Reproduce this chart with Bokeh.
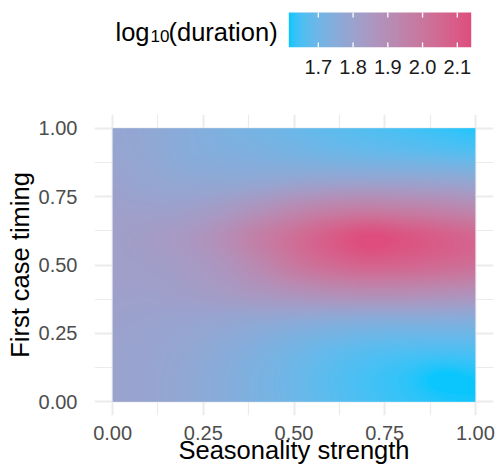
import numpy as np
from bokeh.plotting import figure
from bokeh.models import Range1d, LinearColorMapper, FixedTicker, NumeralTickFormatter, Label
from bokeh.embed import file_html
from bokeh.resources import INLINE

# ---------------- data ----------------
seasonality_strength = [0.0, 0.1, 0.2, 0.3, 0.4, 0.5, 0.6, 0.7, 0.8, 0.9, 1.0]
first_case_timing = [0.0, 0.1, 0.2, 0.3, 0.4, 0.5, 0.6, 0.7, 0.8, 0.9, 1.0]

# log10(duration) along seasonality strength, one list per first-case-timing value
dur_t00 = [1.800, 1.790, 1.772, 1.750, 1.722, 1.695, 1.668, 1.648, 1.633, 1.622, 1.617]
dur_t01 = [1.800, 1.790, 1.773, 1.750, 1.722, 1.694, 1.667, 1.646, 1.631, 1.615, 1.620]
dur_t02 = [1.800, 1.793, 1.780, 1.760, 1.736, 1.710, 1.688, 1.673, 1.665, 1.662, 1.663]
dur_t03 = [1.805, 1.800, 1.795, 1.787, 1.778, 1.768, 1.757, 1.750, 1.748, 1.747, 1.744]
dur_t04 = [1.810, 1.810, 1.820, 1.835, 1.857, 1.880, 1.900, 1.910, 1.908, 1.898, 1.888]
dur_t05 = [1.815, 1.820, 1.835, 1.864, 1.920, 1.990, 2.040, 2.070, 2.062, 2.045, 2.025]
dur_t06 = [1.815, 1.828, 1.848, 1.890, 1.958, 2.025, 2.090, 2.140, 2.118, 2.085, 2.055]
dur_t07 = [1.810, 1.808, 1.812, 1.835, 1.875, 1.920, 1.955, 1.970, 1.960, 1.945, 1.920]
dur_t08 = [1.800, 1.785, 1.775, 1.773, 1.778, 1.790, 1.797, 1.798, 1.796, 1.790, 1.780]
dur_t09 = [1.790, 1.775, 1.752, 1.740, 1.730, 1.718, 1.705, 1.695, 1.686, 1.676, 1.665]
dur_t10 = [1.785, 1.772, 1.750, 1.727, 1.708, 1.690, 1.671, 1.656, 1.643, 1.630, 1.617]

x_ticks = [0.0, 0.25, 0.5, 0.75, 1.0]
x_minor = [0.125, 0.375, 0.625, 0.875]
y_ticks = [0.0, 0.25, 0.5, 0.75, 1.0]
y_minor = [0.125, 0.375, 0.625, 0.875]
legend_ticks = [1.7, 1.8, 1.9, 2.0, 2.1]

low_color = "#0AC6FC"
high_color = "#DE4D7D"

FONT = "Liberation Sans"

grid = np.array([dur_t00, dur_t01, dur_t02, dur_t03, dur_t04, dur_t05,
                 dur_t06, dur_t07, dur_t08, dur_t09, dur_t10])
lo, hi = float(grid.min()), float(grid.max())

# ---------------- CIELAB gradient palette (as ggplot's scale_fill_gradient) ----------------
M = np.array([[0.4124564, 0.3575761, 0.1804375],
              [0.2126729, 0.7151522, 0.0721750],
              [0.0193339, 0.1191920, 0.9503041]])
WP = np.array([0.95047, 1.0, 1.08883])


def hex_to_lab(h):
    rgb = np.array([int(h[i:i + 2], 16) for i in (1, 3, 5)]) / 255.0
    c = np.where(rgb <= 0.04045, rgb / 12.92, ((rgb + 0.055) / 1.055) ** 2.4)
    t = (M @ c) / WP
    f = np.where(t > (6 / 29) ** 3, np.cbrt(t), t / (3 * (6 / 29) ** 2) + 4 / 29)
    return np.array([116 * f[1] - 16, 500 * (f[0] - f[1]), 200 * (f[1] - f[2])])


def lab_to_hex(lab):
    L, a, b = lab
    fy = (L + 16) / 116
    f = np.array([fy + a / 500, fy, fy - b / 200])
    t = np.where(f > 6 / 29, f ** 3, 3 * (6 / 29) ** 2 * (f - 4 / 29))
    c = np.linalg.inv(M) @ (t * WP)
    c = np.clip(c, 0, 1)
    rgb = np.where(c <= 0.0031308, 12.92 * c, 1.055 * c ** (1 / 2.4) - 0.055)
    r, g, bb = (np.clip(np.round(rgb * 255), 0, 255)).astype(int)
    return "#%02x%02x%02x" % (r, g, bb)


lab_lo, lab_hi = hex_to_lab(low_color), hex_to_lab(high_color)
palette = [lab_to_hex((1 - s) * lab_lo + s * lab_hi) for s in np.linspace(0, 1, 256)]
mapper = LinearColorMapper(palette=palette, low=lo, high=hi)


# ---------------- smooth display of the grid (like geom_raster(interpolate=TRUE)) ----------------
def smooth_axis(vals, n_out, axis):
    v = np.moveaxis(vals, axis, -1)
    n = v.shape[-1]
    t = (np.arange(n_out) + 0.5) / n_out * (n - 1)
    i = np.clip(np.floor(t).astype(int), 0, n - 2)
    f = t - i
    p1 = v[..., i]
    p2 = v[..., i + 1]
    p0 = np.where(i - 1 >= 0, v[..., np.maximum(i - 1, 0)], 2 * p1 - p2)
    p3 = np.where(i + 2 <= n - 1, v[..., np.minimum(i + 2, n - 1)], 2 * p2 - p1)
    out = 0.5 * (2 * p1 + (-p0 + p2) * f + (2 * p0 - 5 * p1 + 4 * p2 - p3) * f ** 2
                 + (-p0 + 3 * p1 - 3 * p2 + p3) * f ** 3)
    return np.moveaxis(out, -1, axis)


img = smooth_axis(smooth_axis(grid, 363, 1), 274, 0)

W = 497
H_TOP = 80
H_MAIN = 390

# ---------------- colour bar figure (top) ----------------
bar_left_px, bar_right_px = 288.3, 470.7
ppu = (bar_right_px - bar_left_px) / (hi - lo)
cb_x0 = lo - bar_left_px / ppu
cb_x1 = cb_x0 + W / ppu


def cbx(px):
    return cb_x0 + px / ppu


def cby(py):
    return (47 - py) / 35.0


top = figure(width=W, height=H_TOP, x_range=Range1d(cb_x0, cb_x1), y_range=Range1d(0, 47 / 35.0),
             output_backend="svg", toolbar_location=None, y_axis_location=None,
             min_border_left=0, min_border_right=0, min_border_top=0, min_border_bottom=H_TOP - 47)
top.outline_line_color = None
top.xgrid.visible = False
top.ygrid.visible = False
bar = np.linspace(lo, hi, 400)[None, :]
top.image(image=[bar], x=lo, y=0, dw=hi - lo, dh=1, color_mapper=mapper)
top.segment(x0=legend_ticks, y0=0, x1=legend_ticks, y1=5 / 35.0, line_color="white", line_width=1.3)
top.segment(x0=legend_ticks, y0=30 / 35.0, x1=legend_ticks, y1=1, line_color="white", line_width=1.3)
top.xaxis.ticker = FixedTicker(ticks=legend_ticks)
top.xaxis.formatter = NumeralTickFormatter(format="0.0")
top.xaxis.axis_line_color = None
top.xaxis.major_tick_line_color = None
top.xaxis.minor_tick_line_color = None
top.xaxis.major_label_standoff = 6
top.xaxis.major_label_text_font = FONT
top.xaxis.major_label_text_font_size = "20px"
top.xaxis.major_label_text_color = "#1A1A1A"

top.add_layout(Label(x=cbx(115), y=cby(31), text="log", text_font=FONT, text_font_size="25.5px",
                     text_color="black", text_align="left", text_baseline="alphabetic"))
top.add_layout(Label(x=cbx(150), y=cby(35.7), text="10", text_font=FONT, text_font_size="17px",
                     text_color="black", text_align="left", text_baseline="alphabetic"))
top.add_layout(Label(x=cbx(168), y=cby(31), text="(duration)", text_font=FONT, text_font_size="25.5px",
                     text_color="black", text_align="left", text_baseline="alphabetic"))

# ---------------- main figure ----------------
p = figure(width=W, height=H_MAIN, x_range=Range1d(-0.05, 1.05), y_range=Range1d(-0.05, 1.05),
           output_backend="svg", toolbar_location=None,
           min_border_left=94, min_border_right=4, min_border_top=34, min_border_bottom=55,
           x_axis_label="Seasonality strength", y_axis_label="First case timing")
p.outline_line_color = None
p.image(image=[img], x=seasonality_strength[0], y=first_case_timing[0],
        dw=seasonality_strength[-1] - seasonality_strength[0],
        dh=first_case_timing[-1] - first_case_timing[0], color_mapper=mapper)

xt = FixedTicker(ticks=x_ticks, minor_ticks=x_minor)
yt = FixedTicker(ticks=y_ticks, minor_ticks=y_minor)
p.xaxis.ticker = xt
p.yaxis.ticker = yt
p.xgrid.ticker = xt
p.ygrid.ticker = yt
for ax in (p.xaxis, p.yaxis):
    ax.formatter = NumeralTickFormatter(format="0.00")
    ax.axis_line_color = None
    ax.major_tick_line_color = None
    ax.minor_tick_line_color = None
    ax.major_label_text_font = FONT
    ax.major_label_text_font_size = "20px"
    ax.major_label_text_color = "#4D4D4D"
    ax.axis_label_text_font = FONT
    ax.axis_label_text_font_size = "25.5px"
    ax.axis_label_text_font_style = "normal"
    ax.axis_label_text_color = "black"
p.xaxis.major_label_standoff = 4
p.yaxis.major_label_standoff = 11
p.xaxis.axis_label_standoff = -7
p.yaxis.axis_label_standoff = 2
for g in (p.xgrid, p.ygrid):
    g.grid_line_color = "#EBEBEB"
    g.grid_line_width = 2
    g.minor_grid_line_color = "#EBEBEB"
    g.minor_grid_line_width = 1.2

open("out.html", "w").write(file_html([top, p], INLINE))
